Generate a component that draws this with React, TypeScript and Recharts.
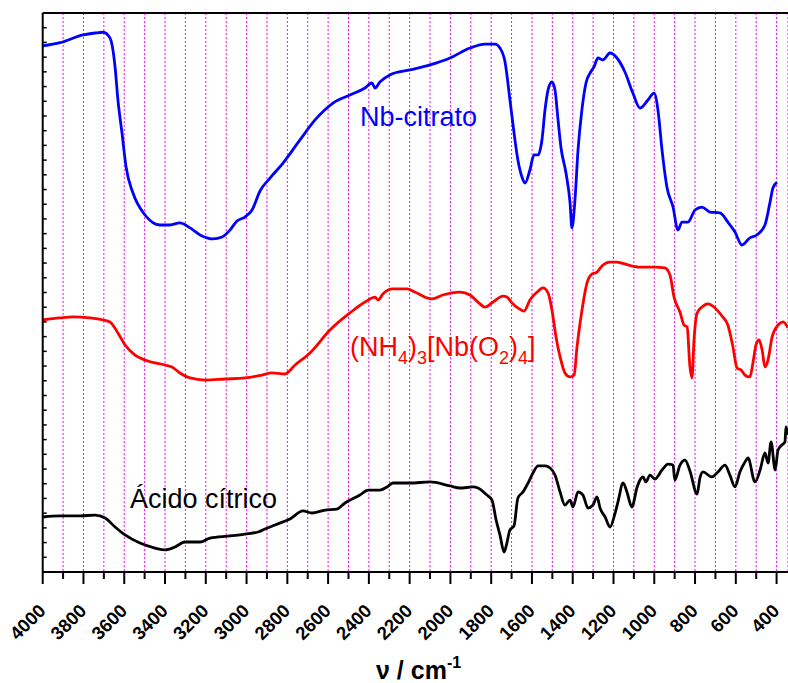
import React from "react";
import { LineChart, Line, XAxis, YAxis, CartesianGrid, ReferenceLine } from "recharts";

// FT-IR spectra, [wavenumber cm-1, transmittance (a.u., stacked)]
const NB_CITRATO: [number, number][] = [
  [4000, 35.76], [3915, 35.98], [3802, 36.51], [3743, 36.64], [3704, 36.69], [3670, 36.3],
  [3645, 34.33], [3631, 32.09], [3611, 29.84], [3591, 27.53], [3557, 25.76], [3498, 24.27],
  [3425, 23.59], [3376, 23.59], [3327, 23.73], [3277, 23.39], [3228, 22.91], [3165, 22.64],
  [3120, 22.77], [3081, 23.25], [3047, 23.86], [3008, 24.13], [2973, 24.61], [2934, 25.9],
  [2885, 26.78], [2821, 27.8], [2738, 29.37], [2664, 30.73], [2576, 31.88], [2493, 32.43],
  [2419, 32.9], [2385, 33.24], [2370, 32.9], [2346, 33.31], [2297, 33.79], [2198, 34.13],
  [2100, 34.47], [2002, 34.94], [1904, 35.62], [1830, 35.89], [1781, 35.89], [1757, 35.62],
  [1732, 34.67], [1708, 32.09], [1694, 30.52], [1669, 28.01], [1649, 26.85], [1634, 26.44],
  [1610, 27.33], [1590, 28.35], [1570, 28.35], [1551, 29.37], [1536, 31.41], [1521, 32.77],
  [1502, 33.31], [1487, 32.77], [1472, 30.73], [1458, 28.89], [1433, 27.12], [1413, 25.08],
  [1404, 23.39], [1389, 25.29], [1374, 28.69], [1355, 31.41], [1335, 33.24], [1315, 33.92],
  [1296, 34.33], [1276, 34.94], [1252, 34.81], [1217, 35.28], [1183, 34.94], [1144, 33.99],
  [1105, 32.56], [1070, 31.54], [1031, 32.09], [1001, 32.56], [982, 31.41], [962, 28.69],
  [938, 26.17], [908, 24.81], [884, 23.25], [864, 23.79], [835, 23.79], [800, 24.61],
  [766, 24.81], [727, 24.47], [678, 24.41], [639, 23.79], [604, 23.11], [570, 22.23],
  [531, 22.71], [497, 22.91], [457, 23.59], [433, 25.08], [418, 26.1], [398, 26.51],
];

const NH4_PEROXO: [number, number][] = [
  [4000, 17.13], [3915, 17.27], [3851, 17.34], [3768, 17.27], [3704, 17.13], [3670, 17.0],
  [3631, 16.25], [3596, 15.43], [3547, 14.75], [3498, 14.41], [3400, 14.07], [3366, 13.94],
  [3327, 13.53], [3277, 13.19], [3204, 13.05], [3106, 13.12], [3008, 13.19], [2924, 13.39],
  [2875, 13.53], [2812, 13.46], [2762, 14.07], [2689, 14.89], [2591, 16.45], [2493, 17.61],
  [2419, 18.35], [2370, 18.69], [2355, 18.49], [2331, 18.9], [2282, 19.24], [2213, 19.24],
  [2174, 19.03], [2125, 18.69], [2090, 18.56], [2037, 18.83], [1953, 19.03], [1904, 18.83],
  [1865, 18.35], [1830, 18.01], [1791, 18.35], [1742, 18.76], [1723, 18.69], [1698, 18.29],
  [1669, 17.95], [1639, 17.74], [1610, 18.49], [1575, 19.03], [1546, 19.31], [1521, 18.97],
  [1502, 17.81], [1482, 15.98], [1462, 14.62], [1438, 13.53], [1413, 13.26], [1393, 13.39],
  [1379, 15.3], [1364, 16.93], [1349, 18.29], [1330, 19.65], [1305, 20.26], [1281, 20.39],
  [1257, 20.8], [1217, 21.07], [1183, 21.07], [1129, 20.87], [1070, 20.73], [997, 20.73],
  [948, 20.67], [923, 20.19], [903, 18.69], [874, 17.67], [854, 16.79], [839, 16.66],
  [825, 13.94], [815, 13.19], [805, 15.77], [790, 17.61], [766, 18.01], [737, 18.22],
  [702, 17.95], [668, 17.4], [639, 16.79], [614, 15.3], [594, 13.87], [574, 13.73],
  [555, 13.39], [531, 13.26], [516, 14.21], [501, 15.43], [486, 15.77], [471, 15.09],
  [457, 13.94], [442, 14.41], [422, 15.98], [393, 16.79], [368, 17.0], [344, 16.59],
];

const ACIDO_CITRICO: [number, number][] = [
  [4000, 3.74], [3915, 3.81], [3817, 3.81], [3743, 3.87], [3694, 3.67], [3645, 3.06],
  [3596, 2.52], [3523, 1.97], [3449, 1.63], [3400, 1.5], [3351, 1.7], [3302, 2.04],
  [3228, 2.04], [3179, 2.31], [3081, 2.45], [3008, 2.58], [2944, 2.72], [2910, 2.92],
  [2861, 3.2], [2787, 3.6], [2723, 4.15], [2679, 4.01], [2615, 4.21], [2557, 4.28],
  [2517, 4.69], [2444, 5.23], [2404, 5.57], [2346, 5.57], [2311, 5.78], [2282, 6.05],
  [2198, 6.05], [2100, 6.12], [2002, 5.85], [1953, 5.71], [1889, 5.78], [1865, 5.71],
  [1821, 5.23], [1796, 4.89], [1776, 3.54], [1757, 2.52], [1737, 1.36], [1723, 1.97],
  [1708, 2.86], [1688, 3.13], [1669, 5.03], [1644, 5.44], [1619, 6.05], [1595, 6.73],
  [1570, 7.21], [1536, 7.21], [1511, 7.07], [1487, 6.59], [1462, 5.44], [1438, 4.55],
  [1413, 4.89], [1399, 4.42], [1374, 5.44], [1350, 5.23], [1325, 4.35], [1301, 4.55],
  [1281, 5.1], [1266, 4.35], [1241, 3.74], [1217, 3.06], [1192, 4.01], [1178, 4.76],
  [1153, 6.05], [1134, 5.44], [1110, 4.42], [1084, 5.78], [1070, 6.25], [1055, 6.46],
  [1041, 6.12], [1021, 6.59], [997, 6.32], [962, 6.93], [932, 7.34], [908, 7.27],
  [899, 6.25], [874, 7.27], [849, 7.61], [825, 6.87], [790, 5.3], [776, 6.39],
  [761, 6.8], [717, 6.46], [688, 6.8], [653, 7.27], [629, 6.59], [604, 5.78],
  [580, 6.8], [555, 7.48], [540, 7.75], [506, 6.12], [481, 6.93], [457, 8.09],
  [442, 7.41], [427, 8.84], [407, 6.93], [393, 8.29], [374, 8.63], [359, 8.84],
  [354, 9.86], [344, 9.31],
];

const X_LABELS = [4000, 3800, 3600, 3400, 3200, 3000, 2800, 2600, 2400, 2200, 2000, 1800, 1600, 1400, 1200, 1000, 800, 600, 400];
const X_TICKS = X_LABELS.flatMap((v) => (v > 400 ? [v, v - 100] : [v]));
const Y_TICKS = Array.from({ length: 39 }, (_, i) => i);

const FONT = "Arial, 'Liberation Sans', sans-serif";

const toRows = (pts: [number, number][]) => pts.map(([wn, t]) => ({ wn, t }));

const XTick = (props: any) => {
  const { x, y, payload } = props;
  const major = payload.value % 200 === 0;
  const tx = x + 4;
  const ty = y + 40;
  return (
    <g>
      <line x1={x} y1={y} x2={x} y2={y + (major ? 12 : 7)} stroke="#000" strokeWidth={2} />
      {major && (
        <text
          x={tx}
          y={ty}
          transform={`rotate(-45 ${tx} ${ty})`}
          textAnchor="end"
          fontFamily={FONT}
          fontWeight="bold"
          fontSize={18.5}
          fill="#000"
        >
          {payload.value}
        </text>
      )}
    </g>
  );
};

export default function App() {
  return (
    <div style={{ position: "absolute", left: 0, top: 0, width: 788, height: 683, background: "#fff" }}>
      <LineChart width={788} height={683} margin={{ top: 13, right: 0, left: 42.7, bottom: 0 }}>
        <CartesianGrid vertical horizontal={false} stroke="#ff00ff" strokeDasharray="2 2" />
        <XAxis
          dataKey="wn"
          type="number"
          domain={[344, 4000]}
          reversed
          allowDataOverflow
          ticks={X_TICKS}
          interval={0}
          height={111}
          tickSize={0}
          tickMargin={0}
          tickLine={false}
          tick={<XTick />}
          axisLine={{ stroke: "#000", strokeWidth: 2 }}
        />
        <YAxis
          type="number"
          domain={[0, 38]}
          ticks={Y_TICKS}
          interval={0}
          mirror
          tickSize={4}
          tickFormatter={() => ""}
          tickLine={{ stroke: "#000", strokeWidth: 1.5 }}
          axisLine={{ stroke: "#000", strokeWidth: 2 }}
        />
        <ReferenceLine y={38} stroke="#000" strokeWidth={2} />
        <Line data={toRows(NB_CITRATO)} dataKey="t" type="monotone" stroke="#0000ff" strokeWidth={2.8} dot={false} isAnimationActive={false} />
        <Line data={toRows(NH4_PEROXO)} dataKey="t" type="monotone" stroke="#ff0000" strokeWidth={2.8} dot={false} isAnimationActive={false} />
        <Line data={toRows(ACIDO_CITRICO)} dataKey="t" type="monotone" stroke="#000000" strokeWidth={2.8} dot={false} isAnimationActive={false} />
        <g fontFamily={FONT}>
          <text x={360} y={126} fontSize={27} fill="#0000ff">Nb-citrato</text>
          <text x={350} y={356} fontSize={27} fill="#ff0000">
            (NH<tspan fontSize={18} dy={8}>4</tspan>
            <tspan dy={-8}>)</tspan>
            <tspan fontSize={18} dy={8}>3</tspan>
            <tspan dy={-8}>[Nb(O</tspan>
            <tspan fontSize={18} dy={8}>2</tspan>
            <tspan dy={-8}>)</tspan>
            <tspan fontSize={18} dy={8}>4</tspan>
            <tspan dy={-8}>]</tspan>
          </text>
          <text x={130} y={508} fontSize={27} fill="#000">Ácido cítrico</text>
          <text x={376} y={679} fontSize={25} fontWeight="bold" fill="#000">
            ν / cm<tspan fontSize={16} dy={-11}>-1</tspan>
          </text>
        </g>
      </LineChart>
    </div>
  );
}
